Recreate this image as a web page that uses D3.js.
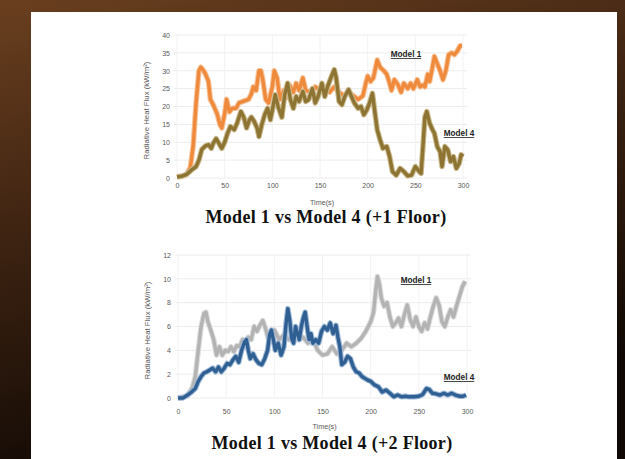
<!DOCTYPE html>
<html>
<head>
<meta charset="utf-8">
<script src="https://cdn.jsdelivr.net/npm/d3@7"></script>
<style>
  html, body { margin: 0; padding: 0; background: #1a0e06; }
  svg { display: block; }
</style>
</head>
<body>
<svg id="chart" width="625" height="459"></svg>
<script>
// ---- data: time (s) and radiative heat flux (kW/m²) ----
const time1 = [0,5,10,14,17,20,23,25,28,30,33,35,38,42,45,47,50,52,55,58,62,65,70,75,78,80,83,86,88,90,93,96,100,102,105,108,112,115,118,122,125,128,132,135,140,145,150,155,160,165,170,175,180,185,190,195,198,200,203,206,210,213,217,220,223,225,228,232,235,238,242,245,248,252,255,258,260,263,265,268,270,273,276,279,282,285,288,291,294,297,299];
const floor1Model1 = [0.4,0.5,1,3,9,21,30,31,30,29,27,22,20.5,18,15,14,18,22,18.5,19.5,19.5,21,21.5,22,23.5,25.5,24.5,30,30,27.5,22,21,25.5,30,28,22,24.5,22.5,26,24,26.5,24.5,28,24.5,24,25.5,24.5,25.5,24,25.5,24,23,24,23,22,23,26.5,28.5,27,28,33,31,30,29,26.5,24.5,27.5,26,24,26.5,25,26.5,25,27.5,25.5,26,25.5,29,27,31,34,32,30,27.5,30,34.5,35,34.5,35.5,37,37];

const time1b = [0,5,10,15,20,23,26,30,33,36,38,41,44,47,50,53,56,60,63,67,70,73,76,78,81,84,86,89,92,95,98,100,103,106,110,113,116,119,122,125,128,132,135,138,142,145,148,152,155,158,162,165,167,170,173,176,180,183,186,190,193,196,199,202,205,207,210,213,216,220,223,226,230,234,238,242,246,250,254,256,258,260,262,265,268,270,273,276,278,281,284,287,290,293,296,298,300];
const floor1Model4 = [0.3,0.5,1,2.2,3.2,5,8,9,9.3,8.3,9.7,11,9.7,8.3,10,12.5,14.4,13.5,15.3,18.6,17,14,16.3,17,15.8,14,11.6,15,17.7,19.5,16.3,19,23.3,20,17,23.3,26.5,21.9,19.5,22.8,21.4,24.2,21.4,21.9,25,21,22.8,26.5,22.8,25.6,28.4,30.3,28,21.4,20.5,22.8,24.7,22.8,21,19.5,20,17.7,19,21,23.7,19.5,13.5,10.7,8.3,8.8,6,1.8,0.8,2.7,1.8,0.6,0.8,3.2,1.8,1.3,8.8,17,18.6,15.3,13.5,12.5,8.8,7.4,3.2,8.8,7.9,4.6,6,2.7,4.1,6.5,6];

const time2 = [0,10,15,18,21,24,27,29,31,34,37,40,43,46,49,52,55,58,61,64,67,70,73,76,79,82,85,88,91,94,97,100,105,110,115,120,125,130,135,140,145,150,155,160,165,170,175,180,185,190,195,200,203,205,207,209,211,214,217,220,223,226,229,232,235,238,241,244,247,250,253,256,259,262,265,268,271,274,277,280,283,286,289,292,295,298];
const floor2Model1 = [0,0.2,0.9,1.8,4,6,7.1,7.2,6.4,5.7,4.9,3.6,4.3,3.6,4,3.9,4.3,3.9,4.4,4.3,4.9,4.6,5.1,4.9,6,5.6,6.1,6.5,5.8,4.9,5.3,5.7,4.9,5.3,4.9,5.4,4.9,5.1,4.6,4.9,4,3.6,3.7,4.3,3.7,4,4.6,4.3,4.6,5,5.6,6.4,7.2,8.8,10.2,9.6,8.4,7.7,8,6.8,6,6.3,6.7,6,7,7.8,6.6,6,6.8,6,5.6,6.3,5.8,6.8,7.7,8.4,7.8,6.4,6,6.8,7.4,6.8,7.7,8.5,9.3,9.8];

const time2b = [0,5,10,14,18,21,24,27,30,33,36,39,42,45,48,51,54,57,60,63,66,69,71,73,75,78,81,84,87,90,93,95,97,99,101,104,107,110,112,114,116,118,120,122,124,126,128,130,132,134,136,138,140,143,146,149,152,155,158,161,164,166,168,170,173,176,179,182,185,188,191,194,197,200,204,208,212,216,220,224,228,232,236,240,245,250,254,258,261,264,268,272,276,280,284,288,292,296,299];
const floor2Model4 = [0,0,0.25,0.5,0.8,1.4,1.8,2.1,2.2,2.35,2.5,2.2,2.6,2.2,2.5,2.9,2.8,3.2,3.5,3,4,4.7,4.9,4,3.3,3.7,3.2,2.9,2.8,3.3,4,5.3,5.7,4.9,4,4.6,3.6,4.3,6.1,7.5,6.5,5,4.6,6,5.4,4.9,6,6.7,7.2,6,4.9,5.4,4.6,4.9,4.6,5.6,6,5.7,6.3,5.4,6.1,5.1,4.3,2.8,3,3.5,3.3,2.6,2.2,2.1,1.8,1.65,1.5,1.4,1.1,0.95,0.5,0.67,0.4,0.1,0.25,0.1,0.15,0.1,0.1,0.15,0.3,0.8,0.7,0.4,0.35,0.25,0.4,0.25,0.4,0.25,0.15,0.15,0.25];

const xTicks = [0,50,100,150,200,250,300];
const yTicks1 = [0,5,10,15,20,25,30,35,40];
const yTicks2 = [0,2,4,6,8,10,12];

const svg = d3.select("#chart");
const sans = "'Liberation Sans', Arial, sans-serif";

// ---- backdrop and white card ----
const defs = svg.append("defs");
const bg = defs.append("linearGradient").attr("id", "bg")
  .attr("x1", "0").attr("y1", "0").attr("x2", "0.35").attr("y2", "1");
bg.append("stop").attr("offset", "0").attr("stop-color", "#6a3f1f");
bg.append("stop").attr("offset", "0.45").attr("stop-color", "#3f2412");
bg.append("stop").attr("offset", "1").attr("stop-color", "#0f0804");
defs.append("filter").attr("id", "soft")
  .append("feGaussianBlur").attr("stdDeviation", 0.6);

svg.append("rect").attr("width", 625).attr("height", 459).attr("fill", "url(#bg)");
svg.append("rect").attr("x", 31).attr("y", 12).attr("width", 586).attr("height", 447).attr("fill", "#ffffff");

function panel(cfg) {
  const x = d3.scaleLinear().domain([0, 300]).range([cfg.x0, cfg.x1]);
  const y = d3.scaleLinear().domain([0, cfg.yMax]).range([cfg.y0, cfg.y1]);
  const g = svg.append("g");

  // gridlines
  g.append("g").selectAll("line").data(cfg.yTicks).join("line")
    .attr("x1", cfg.x0 - 3).attr("x2", cfg.x1 + 4)
    .attr("y1", d => y(d)).attr("y2", d => y(d))
    .attr("stroke", "#ececec").attr("stroke-width", 1);
  g.append("g").selectAll("line").data(xTicks).join("line")
    .attr("x1", d => x(d)).attr("x2", d => x(d))
    .attr("y1", cfg.y1).attr("y2", cfg.y0)
    .attr("stroke", "#f2f2f2").attr("stroke-width", 1);

  // axes (labels only)
  const yAxis = g.append("g").attr("transform", `translate(${cfg.x0 - 7},0)`)
    .call(d3.axisLeft(y).tickValues(cfg.yTicks).tickSize(0).tickPadding(0));
  const xAxis = g.append("g").attr("transform", `translate(0,${cfg.y0 + cfg.xLab})`)
    .call(d3.axisBottom(x).tickValues(xTicks).tickSize(0).tickPadding(0));
  [yAxis, xAxis].forEach(a => {
    a.select(".domain").remove();
    a.selectAll("text").attr("fill", "#595959")
      .style("font-family", sans).style("font-size", "7px");
  });

  // axis titles
  g.append("text")
    .attr("transform", `translate(${cfg.x0 - 28},${(cfg.y0 + cfg.y1) / 2 + 4}) rotate(-90)`)
    .attr("text-anchor", "middle").attr("fill", "#595959")
    .style("font-family", sans).style("font-size", "7.8px")
    .text("Radiative Heat Flux (kW/m²)");
  g.append("text")
    .attr("x", (cfg.x0 + cfg.x1) / 2 + 2).attr("y", cfg.y0 + cfg.tLab)
    .attr("text-anchor", "middle").attr("fill", "#595959")
    .style("font-family", sans).style("font-size", "7.2px")
    .text("Time(s)");

  // series
  const line = d3.line().x(d => x(d[0])).y(d => y(d[1])).curve(d3.curveLinear);
  cfg.series.forEach(s => {
    const pts = d3.zip(s.t, s.v);
    g.append("path").datum(pts).attr("d", line)
      .attr("fill", "none").attr("stroke", s.halo).attr("stroke-width", 5.5)
      .attr("stroke-linejoin", "round").attr("filter", "url(#soft)");
    g.append("path").datum(pts).attr("d", line)
      .attr("fill", "none").attr("stroke", s.color).attr("stroke-width", 3.4)
      .attr("stroke-linejoin", "round");
  });

  // series labels
  cfg.labels.forEach(l => {
    g.append("text").attr("x", l.x).attr("y", l.y)
      .attr("fill", "#222").attr("text-anchor", "middle")
      .style("font-family", sans)
      .style("font-size", "8.2px").style("font-weight", "bold")
      .style("text-decoration", "underline")
      .text(l.text);
  });

  // caption
  svg.append("text").attr("x", cfg.capX).attr("y", cfg.y0 + cfg.capY)
    .attr("text-anchor", "middle").attr("fill", "#111")
    .style("font-family", "'Liberation Serif', 'DejaVu Serif', serif")
    .style("font-size", "18px").style("font-weight", "bold")
    .style("letter-spacing", "0.3px")
    .text(cfg.caption);
}

panel({
  x0: 177, x1: 463, y0: 178, y1: 35, yMax: 40, yTicks: yTicks1,
  xLab: 5, tLab: 27, capY: 45,
  series: [
    { t: time1, v: floor1Model1, color: "#ef8a3c", halo: "#f7c49c" },
    { t: time1b, v: floor1Model4, color: "#8e7432", halo: "#c9b98e" }
  ],
  labels: [
    { text: "Model 1", x: 406, y: 57 },
    { text: "Model 4", x: 459, y: 136 }
  ],
  caption: "Model 1 vs Model 4 (+1 Floor)", capX: 326
});

panel({
  x0: 178, x1: 467, y0: 398, y1: 255, yMax: 12, yTicks: yTicks2,
  xLab: 11, tLab: 31, capY: 51,
  series: [
    { t: time2, v: floor2Model1, color: "#b3b3b3", halo: "#dcdcdc" },
    { t: time2b, v: floor2Model4, color: "#2f5f93", halo: "#9fb9d6" }
  ],
  labels: [
    { text: "Model 1", x: 416, y: 283 },
    { text: "Model 4", x: 459, y: 380 }
  ],
  caption: "Model 1 vs Model 4 (+2 Floor)", capX: 332
});
</script>
</body>
</html>
